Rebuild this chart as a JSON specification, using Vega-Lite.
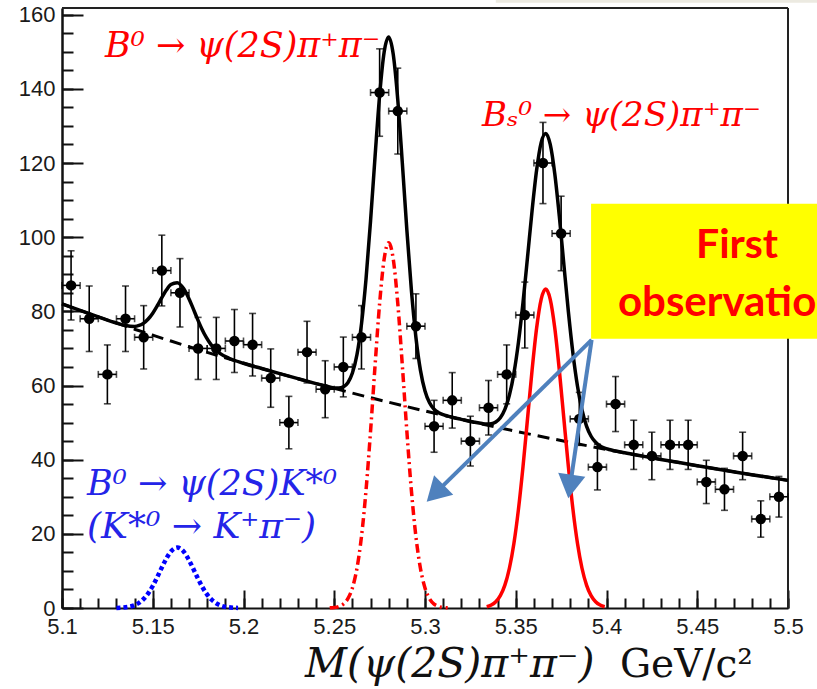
{
  "$schema": "https://vega.github.io/schema/vega-lite/v6.json",
  "width": 726,
  "height": 600,
  "autosize": {"type": "none"},
  "padding": {"left": 62, "top": 8, "right": 29, "bottom": 81},
  "background": "white",
  "config": {
    "view": {"stroke": null},
    "axis": {"grid": false, "title": null, "labelFont": "Liberation Sans", "labelFontSize": 22, "labelColor": "#1a1a1a", "domainColor": "#111", "tickColor": "#111", "labelOverlap": false, "labelFlush": false}
  },
  "resolve": {"axis": {"x": "independent", "y": "independent"}},
  "datasets": {
    "one": [{}],
    "bins": [
      {"x": 5.105, "n": 87, "lo": 77.67, "hi": 96.33, "xlo": 5.1, "xhi": 5.11},
      {"x": 5.115, "n": 78, "lo": 69.17, "hi": 86.83, "xlo": 5.11, "xhi": 5.12},
      {"x": 5.125, "n": 63, "lo": 55.06, "hi": 70.94, "xlo": 5.12, "xhi": 5.13},
      {"x": 5.135, "n": 78, "lo": 69.17, "hi": 86.83, "xlo": 5.13, "xhi": 5.14},
      {"x": 5.145, "n": 73, "lo": 64.46, "hi": 81.54, "xlo": 5.14, "xhi": 5.15},
      {"x": 5.155, "n": 91, "lo": 81.46, "hi": 100.54, "xlo": 5.15, "xhi": 5.16},
      {"x": 5.165, "n": 85, "lo": 75.78, "hi": 94.22, "xlo": 5.16, "xhi": 5.17},
      {"x": 5.175, "n": 70, "lo": 61.63, "hi": 78.37, "xlo": 5.17, "xhi": 5.18},
      {"x": 5.185, "n": 70, "lo": 61.63, "hi": 78.37, "xlo": 5.18, "xhi": 5.19},
      {"x": 5.195, "n": 72, "lo": 63.51, "hi": 80.49, "xlo": 5.19, "xhi": 5.2},
      {"x": 5.205, "n": 71, "lo": 62.57, "hi": 79.43, "xlo": 5.2, "xhi": 5.21},
      {"x": 5.215, "n": 62, "lo": 54.13, "hi": 69.87, "xlo": 5.21, "xhi": 5.22},
      {"x": 5.225, "n": 50, "lo": 42.93, "hi": 57.07, "xlo": 5.22, "xhi": 5.23},
      {"x": 5.235, "n": 69, "lo": 60.69, "hi": 77.31, "xlo": 5.23, "xhi": 5.24},
      {"x": 5.245, "n": 59, "lo": 51.32, "hi": 66.68, "xlo": 5.24, "xhi": 5.25},
      {"x": 5.255, "n": 65, "lo": 56.94, "hi": 73.06, "xlo": 5.25, "xhi": 5.26},
      {"x": 5.265, "n": 73, "lo": 64.46, "hi": 81.54, "xlo": 5.26, "xhi": 5.27},
      {"x": 5.275, "n": 139, "lo": 127.21, "hi": 150.79, "xlo": 5.27, "xhi": 5.28},
      {"x": 5.285, "n": 134, "lo": 122.42, "hi": 145.58, "xlo": 5.28, "xhi": 5.29},
      {"x": 5.295, "n": 76, "lo": 67.28, "hi": 84.72, "xlo": 5.29, "xhi": 5.3},
      {"x": 5.305, "n": 49, "lo": 42.0, "hi": 56.0, "xlo": 5.3, "xhi": 5.31},
      {"x": 5.315, "n": 56, "lo": 48.52, "hi": 63.48, "xlo": 5.31, "xhi": 5.32},
      {"x": 5.325, "n": 45, "lo": 38.29, "hi": 51.71, "xlo": 5.32, "xhi": 5.33},
      {"x": 5.335, "n": 54, "lo": 46.65, "hi": 61.35, "xlo": 5.33, "xhi": 5.34},
      {"x": 5.345, "n": 63, "lo": 55.06, "hi": 70.94, "xlo": 5.34, "xhi": 5.35},
      {"x": 5.355, "n": 79, "lo": 70.11, "hi": 87.89, "xlo": 5.35, "xhi": 5.36},
      {"x": 5.365, "n": 120, "lo": 109.05, "hi": 130.95, "xlo": 5.36, "xhi": 5.37},
      {"x": 5.375, "n": 101, "lo": 90.95, "hi": 111.05, "xlo": 5.37, "xhi": 5.38},
      {"x": 5.385, "n": 51, "lo": 43.86, "hi": 58.14, "xlo": 5.38, "xhi": 5.39},
      {"x": 5.395, "n": 38, "lo": 31.84, "hi": 44.16, "xlo": 5.39, "xhi": 5.4},
      {"x": 5.405, "n": 55, "lo": 47.58, "hi": 62.42, "xlo": 5.4, "xhi": 5.41},
      {"x": 5.415, "n": 44, "lo": 37.37, "hi": 50.63, "xlo": 5.41, "xhi": 5.42},
      {"x": 5.425, "n": 41, "lo": 34.6, "hi": 47.4, "xlo": 5.42, "xhi": 5.43},
      {"x": 5.435, "n": 44, "lo": 37.37, "hi": 50.63, "xlo": 5.43, "xhi": 5.44},
      {"x": 5.445, "n": 44, "lo": 37.37, "hi": 50.63, "xlo": 5.44, "xhi": 5.45},
      {"x": 5.455, "n": 34, "lo": 28.17, "hi": 39.83, "xlo": 5.45, "xhi": 5.46},
      {"x": 5.465, "n": 32, "lo": 26.34, "hi": 37.66, "xlo": 5.46, "xhi": 5.47},
      {"x": 5.475, "n": 41, "lo": 34.6, "hi": 47.4, "xlo": 5.47, "xhi": 5.48},
      {"x": 5.485, "n": 24, "lo": 19.1, "hi": 28.9, "xlo": 5.48, "xhi": 5.49},
      {"x": 5.495, "n": 30, "lo": 24.52, "hi": 35.48, "xlo": 5.49, "xhi": 5.5}
    ],
    "bg": [
      {"x": 5.10, "y": 82.0}, {"x": 5.11, "y": 80.24}, {"x": 5.12, "y": 78.52}, {"x": 5.13, "y": 76.83},
      {"x": 5.14, "y": 75.18}, {"x": 5.15, "y": 73.57}, {"x": 5.16, "y": 71.99}, {"x": 5.17, "y": 70.44},
      {"x": 5.18, "y": 68.93}, {"x": 5.19, "y": 67.45}, {"x": 5.20, "y": 66.0}, {"x": 5.21, "y": 64.59},
      {"x": 5.22, "y": 63.2}, {"x": 5.23, "y": 61.84}, {"x": 5.24, "y": 60.52}, {"x": 5.25, "y": 59.22},
      {"x": 5.26, "y": 57.95}, {"x": 5.27, "y": 56.7}, {"x": 5.28, "y": 55.49}, {"x": 5.29, "y": 54.29},
      {"x": 5.30, "y": 53.13}, {"x": 5.31, "y": 51.99}, {"x": 5.32, "y": 50.87}, {"x": 5.33, "y": 49.78},
      {"x": 5.34, "y": 48.71}, {"x": 5.35, "y": 47.67}, {"x": 5.36, "y": 46.64}, {"x": 5.37, "y": 45.64},
      {"x": 5.38, "y": 44.66}, {"x": 5.39, "y": 43.7}, {"x": 5.40, "y": 42.76}, {"x": 5.41, "y": 41.85},
      {"x": 5.42, "y": 40.95}, {"x": 5.43, "y": 40.07}, {"x": 5.44, "y": 39.21}, {"x": 5.45, "y": 38.37},
      {"x": 5.46, "y": 37.54}, {"x": 5.47, "y": 36.74}, {"x": 5.48, "y": 35.95}, {"x": 5.49, "y": 35.18},
      {"x": 5.50, "y": 34.42}
    ],
    "kstar": [
      {"x": 5.13, "y": 0.03}, {"x": 5.135, "y": 0.18}, {"x": 5.14, "y": 0.76}, {"x": 5.1425, "y": 1.42},
      {"x": 5.145, "y": 2.45}, {"x": 5.1475, "y": 3.95}, {"x": 5.15, "y": 5.94}, {"x": 5.1525, "y": 8.34},
      {"x": 5.155, "y": 10.92}, {"x": 5.1575, "y": 13.35}, {"x": 5.16, "y": 15.23}, {"x": 5.1635, "y": 16.3},
      {"x": 5.167, "y": 15.23}, {"x": 5.1695, "y": 13.35}, {"x": 5.172, "y": 10.92}, {"x": 5.1745, "y": 8.34},
      {"x": 5.177, "y": 5.94}, {"x": 5.1795, "y": 3.95}, {"x": 5.182, "y": 2.45}, {"x": 5.1845, "y": 1.42},
      {"x": 5.187, "y": 0.76}, {"x": 5.192, "y": 0.18}, {"x": 5.197, "y": 0.03}
    ],
    "b0": [
      {"x": 5.2475, "y": 0.05}, {"x": 5.25, "y": 0.14}, {"x": 5.2525, "y": 0.41}, {"x": 5.255, "y": 1.06},
      {"x": 5.2575, "y": 2.5}, {"x": 5.26, "y": 5.4}, {"x": 5.2625, "y": 10.67}, {"x": 5.265, "y": 19.24},
      {"x": 5.2675, "y": 31.69}, {"x": 5.27, "y": 47.67}, {"x": 5.2725, "y": 65.48}, {"x": 5.275, "y": 82.15},
      {"x": 5.2775, "y": 94.13}, {"x": 5.28, "y": 98.5}, {"x": 5.2825, "y": 94.13}, {"x": 5.285, "y": 82.15},
      {"x": 5.2875, "y": 65.48}, {"x": 5.29, "y": 47.67}, {"x": 5.2925, "y": 31.69}, {"x": 5.295, "y": 19.24},
      {"x": 5.2975, "y": 10.67}, {"x": 5.30, "y": 5.4}, {"x": 5.3025, "y": 2.5}, {"x": 5.305, "y": 1.06},
      {"x": 5.3075, "y": 0.41}, {"x": 5.31, "y": 0.14}, {"x": 5.3125, "y": 0.05}
    ],
    "bs": [
      {"x": 5.334, "y": 0.35}, {"x": 5.3365, "y": 0.79}, {"x": 5.339, "y": 1.68}, {"x": 5.3415, "y": 3.32},
      {"x": 5.344, "y": 6.16}, {"x": 5.3465, "y": 10.72}, {"x": 5.349, "y": 17.46}, {"x": 5.3515, "y": 26.66},
      {"x": 5.354, "y": 38.12}, {"x": 5.3565, "y": 51.1}, {"x": 5.359, "y": 64.17}, {"x": 5.3615, "y": 75.5},
      {"x": 5.364, "y": 83.25}, {"x": 5.3665, "y": 86.0}, {"x": 5.369, "y": 83.25}, {"x": 5.3715, "y": 75.5},
      {"x": 5.374, "y": 64.17}, {"x": 5.3765, "y": 51.1}, {"x": 5.379, "y": 38.12}, {"x": 5.3815, "y": 26.66},
      {"x": 5.384, "y": 17.46}, {"x": 5.3865, "y": 10.72}, {"x": 5.389, "y": 6.16}, {"x": 5.3915, "y": 3.32},
      {"x": 5.394, "y": 1.68}, {"x": 5.3965, "y": 0.79}, {"x": 5.399, "y": 0.35}
    ],
    "total": [
      {"x": 5.10, "y": 82.0}, {"x": 5.11, "y": 80.24}, {"x": 5.12, "y": 78.52}, {"x": 5.13, "y": 76.86},
      {"x": 5.135, "y": 76.18}, {"x": 5.14, "y": 75.94}, {"x": 5.1425, "y": 76.2}, {"x": 5.145, "y": 76.82},
      {"x": 5.1475, "y": 77.92}, {"x": 5.15, "y": 79.51}, {"x": 5.1525, "y": 81.51}, {"x": 5.155, "y": 83.69},
      {"x": 5.1575, "y": 85.73}, {"x": 5.16, "y": 87.22}, {"x": 5.1635, "y": 87.74}, {"x": 5.167, "y": 86.13},
      {"x": 5.1695, "y": 83.87}, {"x": 5.172, "y": 81.06}, {"x": 5.1745, "y": 78.1}, {"x": 5.177, "y": 75.32},
      {"x": 5.1795, "y": 72.95}, {"x": 5.182, "y": 71.08}, {"x": 5.1845, "y": 69.68}, {"x": 5.187, "y": 68.65},
      {"x": 5.192, "y": 67.34}, {"x": 5.20, "y": 66.01}, {"x": 5.21, "y": 64.59}, {"x": 5.22, "y": 63.2},
      {"x": 5.23, "y": 61.84}, {"x": 5.24, "y": 60.52}, {"x": 5.245, "y": 59.89}, {"x": 5.25, "y": 59.36},
      {"x": 5.2525, "y": 59.31}, {"x": 5.255, "y": 59.64}, {"x": 5.2575, "y": 60.76}, {"x": 5.26, "y": 63.35},
      {"x": 5.2625, "y": 68.3}, {"x": 5.265, "y": 76.56}, {"x": 5.2675, "y": 88.7}, {"x": 5.27, "y": 104.37},
      {"x": 5.2725, "y": 121.88}, {"x": 5.275, "y": 138.24}, {"x": 5.2775, "y": 149.92}, {"x": 5.28, "y": 153.99},
      {"x": 5.2825, "y": 149.31}, {"x": 5.285, "y": 137.04}, {"x": 5.2875, "y": 120.07}, {"x": 5.29, "y": 101.96},
      {"x": 5.2925, "y": 85.69}, {"x": 5.295, "y": 72.95}, {"x": 5.2975, "y": 64.09}, {"x": 5.30, "y": 58.53},
      {"x": 5.3025, "y": 55.34}, {"x": 5.305, "y": 53.61}, {"x": 5.3075, "y": 52.68}, {"x": 5.31, "y": 52.13},
      {"x": 5.3125, "y": 51.76}, {"x": 5.315, "y": 51.43}, {"x": 5.32, "y": 50.87}, {"x": 5.3265, "y": 50.17},
      {"x": 5.3315, "y": 49.73}, {"x": 5.334, "y": 49.62}, {"x": 5.3365, "y": 49.7}, {"x": 5.339, "y": 50.17},
      {"x": 5.3415, "y": 51.31}, {"x": 5.344, "y": 53.55}, {"x": 5.3465, "y": 57.39}, {"x": 5.349, "y": 63.34},
      {"x": 5.3515, "y": 71.7}, {"x": 5.354, "y": 82.38}, {"x": 5.3565, "y": 94.66}, {"x": 5.359, "y": 107.17},
      {"x": 5.3615, "y": 118.09}, {"x": 5.364, "y": 125.51}, {"x": 5.3665, "y": 127.99}, {"x": 5.369, "y": 125.01},
      {"x": 5.3715, "y": 117.09}, {"x": 5.374, "y": 105.68}, {"x": 5.3765, "y": 92.66}, {"x": 5.379, "y": 79.89},
      {"x": 5.3815, "y": 68.71}, {"x": 5.384, "y": 59.85}, {"x": 5.3865, "y": 53.4}, {"x": 5.389, "y": 49.06},
      {"x": 5.3915, "y": 46.32}, {"x": 5.394, "y": 44.68}, {"x": 5.3965, "y": 43.71}, {"x": 5.399, "y": 43.13},
      {"x": 5.4015, "y": 42.74}, {"x": 5.41, "y": 41.85}, {"x": 5.42, "y": 40.95}, {"x": 5.43, "y": 40.07},
      {"x": 5.44, "y": 39.21}, {"x": 5.45, "y": 38.37}, {"x": 5.46, "y": 37.54}, {"x": 5.47, "y": 36.74},
      {"x": 5.48, "y": 35.95}, {"x": 5.49, "y": 35.18}, {"x": 5.50, "y": 34.42}
    ]
  },
  "layer": [
    {
      "data": {"name": "one"},
      "mark": {"type": "rect", "color": "#ECEAE1"},
      "encoding": {
        "x": {"datum": 5.339, "type": "quantitative", "scale": {"domain": [5.1, 5.5], "nice": false, "zero": false}, "axis": null},
        "x2": {"datum": 5.56},
        "y": {"datum": 163.2, "type": "quantitative", "scale": {"domain": [0, 161.8], "nice": false, "zero": false}, "axis": null},
        "y2": {"datum": 170}
      }
    },
    {
      "data": {"name": "bg"},
      "mark": {"type": "line", "color": "#000000", "strokeWidth": 3, "strokeDash": [12, 7]},
      "encoding": {
        "x": {"field": "x", "type": "quantitative", "scale": {"domain": [5.1, 5.5], "nice": false, "zero": false},
          "axis": {"orient": "bottom", "values": [5.1, 5.15, 5.2, 5.25, 5.3, 5.35, 5.4, 5.45, 5.5], "format": "~g", "ticks": false, "domain": true, "domainWidth": 2, "labelPadding": 8, "labelBaseline": "top"}},
        "y": {"field": "y", "type": "quantitative", "scale": {"domain": [0, 161.8], "nice": false, "zero": false},
          "axis": {"orient": "left", "values": [0, 20, 40, 60, 80, 100, 120, 140, 160], "format": "d", "ticks": false, "domain": true, "domainWidth": 2.5, "labelPadding": 7}}
      }
    },
    {
      "data": {"name": "kstar"},
      "mark": {"type": "line", "color": "#0000FF", "strokeWidth": 4.5, "strokeDash": [4, 3], "interpolate": "monotone"},
      "encoding": {
        "x": {"field": "x", "type": "quantitative", "scale": {"domain": [5.1, 5.5], "nice": false, "zero": false},
          "axis": {"orient": "bottom", "values": [5.1, 5.15, 5.2, 5.25, 5.3, 5.35, 5.4, 5.45, 5.5], "labels": false, "domain": false, "ticks": true, "tickSize": 18, "offset": -18, "tickWidth": 2}},
        "y": {"field": "y", "type": "quantitative", "scale": {"domain": [0, 161.8], "nice": false, "zero": false},
          "axis": {"orient": "left", "values": [0, 20, 40, 60, 80, 100, 120, 140, 160], "labels": false, "domain": false, "ticks": true, "tickSize": 21, "offset": -21, "tickWidth": 2}}
      }
    },
    {
      "data": {"name": "b0"},
      "mark": {"type": "line", "color": "#FF0000", "strokeWidth": 3.5, "strokeDash": [9, 4, 2, 4], "interpolate": "monotone"},
      "encoding": {
        "x": {"field": "x", "type": "quantitative", "scale": {"domain": [5.1, 5.5], "nice": false, "zero": false},
          "axis": {"orient": "bottom", "values": [5.1, 5.11, 5.12, 5.13, 5.14, 5.15, 5.16, 5.17, 5.18, 5.19, 5.2, 5.21, 5.22, 5.23, 5.24, 5.25, 5.26, 5.27, 5.28, 5.29, 5.3, 5.31, 5.32, 5.33, 5.34, 5.35, 5.36, 5.37, 5.38, 5.39, 5.4, 5.41, 5.42, 5.43, 5.44, 5.45, 5.46, 5.47, 5.48, 5.49, 5.5], "labels": false, "domain": false, "ticks": true, "tickSize": 10, "offset": -10, "tickWidth": 2}},
        "y": {"field": "y", "type": "quantitative", "scale": {"domain": [0, 161.8], "nice": false, "zero": false},
          "axis": {"orient": "left", "values": [0, 5, 10, 15, 20, 25, 30, 35, 40, 45, 50, 55, 60, 65, 70, 75, 80, 85, 90, 95, 100, 105, 110, 115, 120, 125, 130, 135, 140, 145, 150, 155, 160], "labels": false, "domain": false, "ticks": true, "tickSize": 11, "offset": -11, "tickWidth": 2}}
      }
    },
    {
      "data": {"name": "bs"},
      "mark": {"type": "line", "color": "#FF0000", "strokeWidth": 3.5, "interpolate": "monotone"},
      "encoding": {
        "x": {"field": "x", "type": "quantitative", "scale": {"domain": [5.1, 5.5], "nice": false, "zero": false}, "axis": null},
        "y": {"field": "y", "type": "quantitative", "scale": {"domain": [0, 161.8], "nice": false, "zero": false}, "axis": null}
      }
    },
    {
      "data": {"name": "one"},
      "mark": {"type": "rule", "color": "#222222", "strokeWidth": 2},
      "encoding": {
        "y": {"datum": 161.8, "type": "quantitative", "scale": {"domain": [0, 161.8], "nice": false, "zero": false}, "axis": null}
      }
    },
    {
      "data": {"name": "one"},
      "mark": {"type": "rule", "color": "#222222", "strokeWidth": 2},
      "encoding": {
        "x": {"datum": 5.5, "type": "quantitative", "scale": {"domain": [5.1, 5.5], "nice": false, "zero": false}, "axis": null}
      }
    },
    {
      "data": {"name": "bins"},
      "mark": {"type": "rule", "color": "#000000", "strokeWidth": 1.6},
      "encoding": {
        "x": {"field": "x", "type": "quantitative", "scale": {"domain": [5.1, 5.5], "nice": false, "zero": false}, "axis": null},
        "y": {"field": "lo", "type": "quantitative", "scale": {"domain": [0, 161.8], "nice": false, "zero": false}, "axis": null},
        "y2": {"field": "hi"}
      }
    },
    {
      "data": {"name": "bins"},
      "mark": {"type": "rule", "color": "#000000", "strokeWidth": 1.6},
      "encoding": {
        "x": {"field": "xlo", "type": "quantitative", "scale": {"domain": [5.1, 5.5], "nice": false, "zero": false}, "axis": null},
        "x2": {"field": "xhi"},
        "y": {"field": "n", "type": "quantitative", "scale": {"domain": [0, 161.8], "nice": false, "zero": false}, "axis": null}
      }
    },
    {
      "data": {"name": "bins"},
      "mark": {"type": "tick", "orient": "horizontal", "color": "#000000", "size": 7, "thickness": 1.6},
      "encoding": {
        "x": {"field": "x", "type": "quantitative", "scale": {"domain": [5.1, 5.5], "nice": false, "zero": false}, "axis": null},
        "y": {"field": "lo", "type": "quantitative", "scale": {"domain": [0, 161.8], "nice": false, "zero": false}, "axis": null}
      }
    },
    {
      "data": {"name": "bins"},
      "mark": {"type": "tick", "orient": "horizontal", "color": "#000000", "size": 7, "thickness": 1.6},
      "encoding": {
        "x": {"field": "x", "type": "quantitative", "scale": {"domain": [5.1, 5.5], "nice": false, "zero": false}, "axis": null},
        "y": {"field": "hi", "type": "quantitative", "scale": {"domain": [0, 161.8], "nice": false, "zero": false}, "axis": null}
      }
    },
    {
      "data": {"name": "bins"},
      "mark": {"type": "tick", "orient": "vertical", "color": "#000000", "size": 7, "thickness": 1.6},
      "encoding": {
        "x": {"field": "xlo", "type": "quantitative", "scale": {"domain": [5.1, 5.5], "nice": false, "zero": false}, "axis": null},
        "y": {"field": "n", "type": "quantitative", "scale": {"domain": [0, 161.8], "nice": false, "zero": false}, "axis": null}
      }
    },
    {
      "data": {"name": "bins"},
      "mark": {"type": "tick", "orient": "vertical", "color": "#000000", "size": 7, "thickness": 1.6},
      "encoding": {
        "x": {"field": "xhi", "type": "quantitative", "scale": {"domain": [5.1, 5.5], "nice": false, "zero": false}, "axis": null},
        "y": {"field": "n", "type": "quantitative", "scale": {"domain": [0, 161.8], "nice": false, "zero": false}, "axis": null}
      }
    },
    {
      "data": {"name": "bins"},
      "mark": {"type": "point", "shape": "circle", "filled": true, "color": "#000000", "size": 110, "opacity": 1},
      "encoding": {
        "x": {"field": "x", "type": "quantitative", "scale": {"domain": [5.1, 5.5], "nice": false, "zero": false}, "axis": null},
        "y": {"field": "n", "type": "quantitative", "scale": {"domain": [0, 161.8], "nice": false, "zero": false}, "axis": null}
      }
    },
    {
      "data": {"name": "total"},
      "mark": {"type": "line", "color": "#000000", "strokeWidth": 3.5, "interpolate": "monotone"},
      "encoding": {
        "x": {"field": "x", "type": "quantitative", "scale": {"domain": [5.1, 5.5], "nice": false, "zero": false}, "axis": null},
        "y": {"field": "y", "type": "quantitative", "scale": {"domain": [0, 161.8], "nice": false, "zero": false}, "axis": null}
      }
    },
    {
      "data": {"name": "one"},
      "mark": {"type": "rect", "color": "#FFFF00"},
      "encoding": {
        "x": {"datum": 5.3915, "type": "quantitative", "scale": {"domain": [5.1, 5.5], "nice": false, "zero": false}, "axis": null},
        "x2": {"datum": 5.56},
        "y": {"datum": 109.0, "type": "quantitative", "scale": {"domain": [0, 161.8], "nice": false, "zero": false}, "axis": null},
        "y2": {"datum": 72.6}
      }
    },
    {
      "data": {"name": "one"},
      "mark": {"type": "text", "text": "First", "font": "Lato", "fontWeight": "bold", "fontSize": 41, "color": "#FF0000", "align": "left", "baseline": "alphabetic"},
      "encoding": {
        "x": {"datum": 5.4493, "type": "quantitative", "scale": {"domain": [5.1, 5.5], "nice": false, "zero": false}, "axis": null},
        "y": {"datum": 94.4, "type": "quantitative", "scale": {"domain": [0, 161.8], "nice": false, "zero": false}, "axis": null}
      }
    },
    {
      "data": {"name": "one"},
      "mark": {"type": "text", "text": "observation", "font": "Lato", "fontWeight": "bold", "fontSize": 42, "color": "#FF0000", "align": "left", "baseline": "alphabetic"},
      "encoding": {
        "x": {"datum": 5.4063, "type": "quantitative", "scale": {"domain": [5.1, 5.5], "nice": false, "zero": false}, "axis": null},
        "y": {"datum": 78.8, "type": "quantitative", "scale": {"domain": [0, 161.8], "nice": false, "zero": false}, "axis": null}
      }
    },
    {
      "data": {"name": "one"},
      "mark": {"type": "rule", "color": "#4F81BD", "strokeWidth": 4},
      "encoding": {
        "x": {"datum": 5.3918, "type": "quantitative", "scale": {"domain": [5.1, 5.5], "nice": false, "zero": false}, "axis": null},
        "y": {"datum": 72.3, "type": "quantitative", "scale": {"domain": [0, 161.8], "nice": false, "zero": false}, "axis": null},
        "x2": {"datum": 5.3056},
        "y2": {"datum": 30.92}
      }
    },
    {
      "data": {"name": "one"},
      "mark": {"type": "rule", "color": "#4F81BD", "strokeWidth": 4},
      "encoding": {
        "x": {"datum": 5.3918, "type": "quantitative", "scale": {"domain": [5.1, 5.5], "nice": false, "zero": false}, "axis": null},
        "y": {"datum": 72.3, "type": "quantitative", "scale": {"domain": [0, 161.8], "nice": false, "zero": false}, "axis": null},
        "x2": {"datum": 5.3799},
        "y2": {"datum": 32.79}
      }
    },
    {
      "data": {"name": "one"},
      "mark": {"type": "point", "shape": "triangle-up", "filled": true, "color": "#4F81BD", "opacity": 1, "size": 750, "angle": 225.6},
      "encoding": {
        "x": {"datum": 5.3056, "type": "quantitative", "scale": {"domain": [5.1, 5.5], "nice": false, "zero": false}, "axis": null},
        "y": {"datum": 30.92, "type": "quantitative", "scale": {"domain": [0, 161.8], "nice": false, "zero": false}, "axis": null}
      }
    },
    {
      "data": {"name": "one"},
      "mark": {"type": "point", "shape": "triangle-up", "filled": true, "color": "#4F81BD", "opacity": 1, "size": 750, "angle": 188.4},
      "encoding": {
        "x": {"datum": 5.3799, "type": "quantitative", "scale": {"domain": [5.1, 5.5], "nice": false, "zero": false}, "axis": null},
        "y": {"datum": 32.79, "type": "quantitative", "scale": {"domain": [0, 161.8], "nice": false, "zero": false}, "axis": null}
      }
    },
    {
      "data": {"name": "one"},
      "mark": {"type": "text", "text": "B⁰ → ψ(2S)π⁺π⁻", "font": "DejaVu Serif", "fontStyle": "italic", "fontSize": 35, "color": "#FF0000", "align": "left", "baseline": "alphabetic"},
      "encoding": {
        "x": {"datum": 5.1237, "type": "quantitative", "scale": {"domain": [5.1, 5.5], "nice": false, "zero": false}, "axis": null},
        "y": {"datum": 148.7, "type": "quantitative", "scale": {"domain": [0, 161.8], "nice": false, "zero": false}, "axis": null}
      }
    },
    {
      "data": {"name": "one"},
      "mark": {"type": "text", "text": "Bₛ⁰ → ψ(2S)π⁺π⁻", "font": "DejaVu Serif", "fontStyle": "italic", "fontSize": 34, "color": "#FF0000", "align": "left", "baseline": "alphabetic"},
      "encoding": {
        "x": {"datum": 5.3314, "type": "quantitative", "scale": {"domain": [5.1, 5.5], "nice": false, "zero": false}, "axis": null},
        "y": {"datum": 130.1, "type": "quantitative", "scale": {"domain": [0, 161.8], "nice": false, "zero": false}, "axis": null}
      }
    },
    {
      "data": {"name": "one"},
      "mark": {"type": "text", "text": "B⁰ → ψ(2S)K*⁰", "font": "DejaVu Serif", "fontStyle": "italic", "fontSize": 35, "color": "#2424E8", "align": "left", "baseline": "alphabetic"},
      "encoding": {
        "x": {"datum": 5.1138, "type": "quantitative", "scale": {"domain": [5.1, 5.5], "nice": false, "zero": false}, "axis": null},
        "y": {"datum": 30.5, "type": "quantitative", "scale": {"domain": [0, 161.8], "nice": false, "zero": false}, "axis": null}
      }
    },
    {
      "data": {"name": "one"},
      "mark": {"type": "text", "text": "(K*⁰ → K⁺π⁻)", "font": "DejaVu Serif", "fontStyle": "italic", "fontSize": 36, "color": "#2424E8", "align": "left", "baseline": "alphabetic"},
      "encoding": {
        "x": {"datum": 5.1138, "type": "quantitative", "scale": {"domain": [5.1, 5.5], "nice": false, "zero": false}, "axis": null},
        "y": {"datum": 18.8, "type": "quantitative", "scale": {"domain": [0, 161.8], "nice": false, "zero": false}, "axis": null}
      }
    },
    {
      "data": {"name": "one"},
      "mark": {"type": "text", "text": "M(ψ(2S)π⁺π⁻)", "font": "DejaVu Serif", "fontStyle": "italic", "fontSize": 41, "color": "#111111", "align": "left", "baseline": "alphabetic"},
      "encoding": {
        "x": {"datum": 5.2339, "type": "quantitative", "scale": {"domain": [5.1, 5.5], "nice": false, "zero": false}, "axis": null},
        "y": {"datum": -18.54, "type": "quantitative", "scale": {"domain": [0, 161.8], "nice": false, "zero": false}, "axis": null}
      }
    },
    {
      "data": {"name": "one"},
      "mark": {"type": "text", "text": "GeV/c²", "font": "DejaVu Serif", "fontSize": 39, "color": "#111111", "align": "left", "baseline": "alphabetic"},
      "encoding": {
        "x": {"datum": 5.4074, "type": "quantitative", "scale": {"domain": [5.1, 5.5], "nice": false, "zero": false}, "axis": null},
        "y": {"datum": -18.54, "type": "quantitative", "scale": {"domain": [0, 161.8], "nice": false, "zero": false}, "axis": null}
      }
    }
  ]
}
